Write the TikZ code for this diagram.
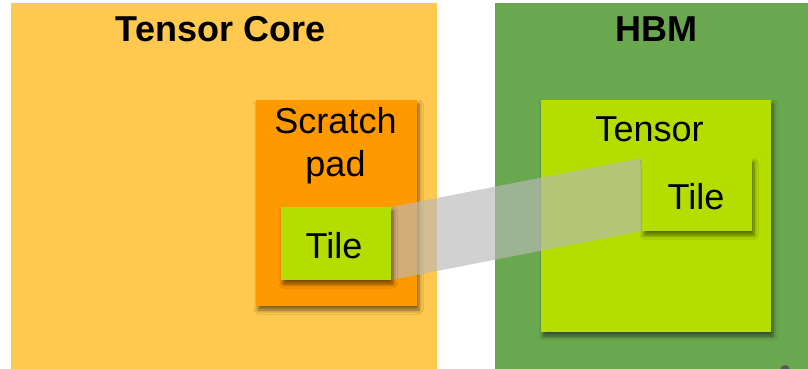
\documentclass[tikz,border=0pt]{standalone}
\usepackage{fontspec}
\setmainfont{Liberation Sans}
\usetikzlibrary{shadows.blur}
\definecolor{coreY}{RGB}{255,201,79}
\definecolor{hbmG}{RGB}{106,168,79}
\definecolor{padO}{RGB}{255,153,0}
\definecolor{limeG}{RGB}{181,221,0}
\definecolor{bandG}{RGB}{185,185,185}
\begin{document}
\begin{tikzpicture}[x=1pt,y=-1pt,
  region/.style={draw=none,inner sep=0pt,outer sep=0pt,anchor=north west},
  sbox/.style={region,blur shadow={shadow xshift=2pt,shadow yshift=-4pt,shadow blur radius=4pt,shadow opacity=55}},
  title/.style={font=\fontsize{36}{36}\selectfont\bfseries,anchor=base,inner sep=0pt},
  lbl/.style={font=\fontsize{36}{36}\selectfont,anchor=base,inner sep=0pt}]
\useasboundingbox[fill=white] (0,0) rectangle (808,369);
% outer regions
\node[region,fill=coreY,minimum width=426pt,minimum height=366pt] (core) at (11,3) {};
\node[region,fill=hbmG,minimum width=313pt,minimum height=366pt] (hbm) at (495,3) {};
\fill[gray!70!black] (785,370) circle (5);
% inner boxes
\node[sbox,fill=padO,minimum width=161pt,minimum height=206pt] (pad) at (256,100) {};
\node[sbox,fill=limeG,minimum width=230pt,minimum height=232pt] (tensor) at (541,100) {};
% tiles (positions)
\coordinate (tlNW) at (281,207);
\coordinate (trNW) at (642,158);
% transfer band
\fill[bandG,opacity=0.65] (391,207) -- (642,158) -- (642,231) -- (391,280) -- cycle;
\node[sbox,fill=limeG,minimum width=110pt,minimum height=73pt] (tileL) at (tlNW) {};
\node[sbox,fill=limeG,minimum width=110pt,minimum height=73pt] (tileR) at (trNW) {};
% texts
\node[title] (tcore) at (220.5,42) {Tensor Core};
\node[title] (thbm) at (656,42) {HBM};
\node[lbl] (tscr) at (335.5,133) {Scratch};
\node[lbl] (tpad) at (335.5,176) {pad};
\node[lbl] (ttl) at (334,258) {Tile};
\node[lbl] (tten) at (649.5,141) {Tensor};
\node[lbl] (ttr) at (696,209) {Tile};
\end{tikzpicture}
\end{document}
